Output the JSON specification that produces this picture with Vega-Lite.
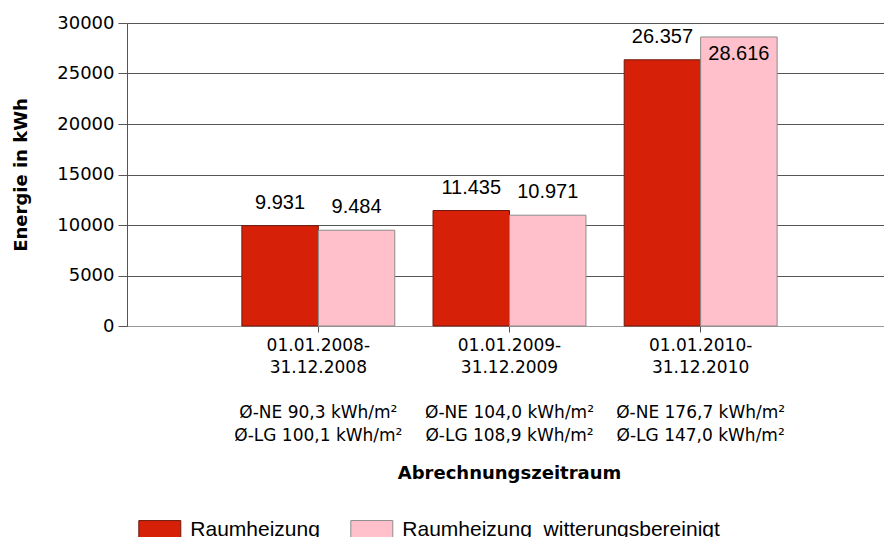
{
  "$schema": "https://vega.github.io/schema/vega-lite/v6.json",
  "width": 757,
  "height": 303,
  "autosize": {"type": "none"},
  "padding": {"left": 127, "top": 23, "right": 0, "bottom": 211},
  "background": "white",
  "config": {
    "locale": {"number": {"decimal": ",", "thousands": ".", "grouping": [3], "currency": ["", " €"]}},
    "view": {"stroke": null},
    "legend": {
      "orient": "none",
      "legendX": 11.3,
      "legendY": 485.5,
      "direction": "horizontal",
      "columns": 2,
      "columnPadding": 28,
      "padding": 0,
      "labelFont": "Liberation Sans",
      "labelFontSize": 21,
      "labelColor": "black",
      "labelOffset": 9,
      "labelLimit": 600,
      "symbolType": "M-1,-0.45H1V0.45H-1Z",
      "symbolSize": 1764,
      "symbolStrokeWidth": 1,
      "symbolOpacity": 1
    }
  },
  "data": {
    "values": [
      {"period": "01.01.2008-|31.12.2008|\u2800|Ø-NE 90,3 kWh/m²|Ø-LG 100,1 kWh/m²", "series": "Raumheizung", "value": 9931},
      {"period": "01.01.2008-|31.12.2008|\u2800|Ø-NE 90,3 kWh/m²|Ø-LG 100,1 kWh/m²", "series": "Raumheizung\u00a0 witterungsbereinigt", "value": 9484},
      {"period": "01.01.2009-|31.12.2009|\u2800|Ø-NE 104,0 kWh/m²|Ø-LG 108,9 kWh/m²", "series": "Raumheizung", "value": 11435},
      {"period": "01.01.2009-|31.12.2009|\u2800|Ø-NE 104,0 kWh/m²|Ø-LG 108,9 kWh/m²", "series": "Raumheizung\u00a0 witterungsbereinigt", "value": 10971},
      {"period": "01.01.2010-|31.12.2010|\u2800|Ø-NE 176,7 kWh/m²|Ø-LG 147,0 kWh/m²", "series": "Raumheizung", "value": 26357},
      {"period": "01.01.2010-|31.12.2010|\u2800|Ø-NE 176,7 kWh/m²|Ø-LG 147,0 kWh/m²", "series": "Raumheizung\u00a0 witterungsbereinigt", "value": 28616}
    ]
  },
  "encoding": {
    "x": {
      "field": "period",
      "type": "nominal",
      "sort": null,
      "scale": {"paddingInner": 0.2, "paddingOuter": 0.58, "align": 0.518},
      "axis": {
        "title": "Abrechnungszeitraum",
        "titleFont": "DejaVu Sans",
        "titleFontSize": 18,
        "titleFontWeight": "bold",
        "titleColor": "black",
        "titleX": 382,
        "titleY": 147,
        "titleBaseline": "middle",
        "titleAnchor": "middle",
        "labelExpr": "split(datum.label, '|')",
        "labelFont": "DejaVu Sans",
        "labelFontSize": 17,
        "labelLineHeight": 22.5,
        "labelColor": "black",
        "labelAngle": 0,
        "labelLimit": 300,
        "labelPadding": 5,
        "tickSize": 6,
        "tickColor": "#555555",
        "domainColor": "#999999",
        "grid": false
      }
    },
    "y": {
      "field": "value",
      "type": "quantitative",
      "scale": {"domain": [0, 30000], "nice": false},
      "axis": {
        "title": "Energie in kWh",
        "titleFont": "DejaVu Sans",
        "titleFontSize": 18,
        "titleFontWeight": "bold",
        "titleColor": "black",
        "titleX": -106,
        "titleY": 151.5,
        "titleBaseline": "middle",
        "titleAlign": "center",
        "titleAngle": 270,
        "values": [0, 5000, 10000, 15000, 20000, 25000, 30000],
        "format": "d",
        "labelFont": "DejaVu Sans",
        "labelFontSize": 18,
        "labelColor": "black",
        "labelPadding": 4,
        "tickSize": 9,
        "tickColor": "#555555",
        "gridColor": "#555555",
        "domainColor": "#555555"
      }
    },
    "xOffset": {
      "field": "series",
      "type": "nominal",
      "sort": null,
      "scale": {"paddingInner": 0, "paddingOuter": 0}
    }
  },
  "layer": [
    {
      "mark": {"type": "bar", "strokeWidth": 1, "opacity": 1},
      "encoding": {
        "fill": {
          "field": "series",
          "type": "nominal",
          "title": null,
          "scale": {"domain": ["Raumheizung", "Raumheizung\u00a0 witterungsbereinigt"], "range": ["#D62008", "#FFC0CB"]}
        },
        "stroke": {
          "field": "series",
          "type": "nominal",
          "title": null,
          "scale": {"domain": ["Raumheizung", "Raumheizung\u00a0 witterungsbereinigt"], "range": ["#6E1A0E", "#8C8C8C"]}
        }
      }
    },
    {
      "transform": [{"filter": "datum.value < 28000"}],
      "mark": {"type": "text", "font": "Liberation Sans", "fontSize": 20, "color": "black", "baseline": "alphabetic", "dy": -17},
      "encoding": {"text": {"field": "value", "type": "quantitative", "format": ",d"}}
    },
    {
      "transform": [{"filter": "datum.value >= 28000"}],
      "mark": {"type": "text", "font": "Liberation Sans", "fontSize": 20, "color": "black", "baseline": "alphabetic", "dy": 23},
      "encoding": {"text": {"field": "value", "type": "quantitative", "format": ",d"}}
    }
  ]
}
